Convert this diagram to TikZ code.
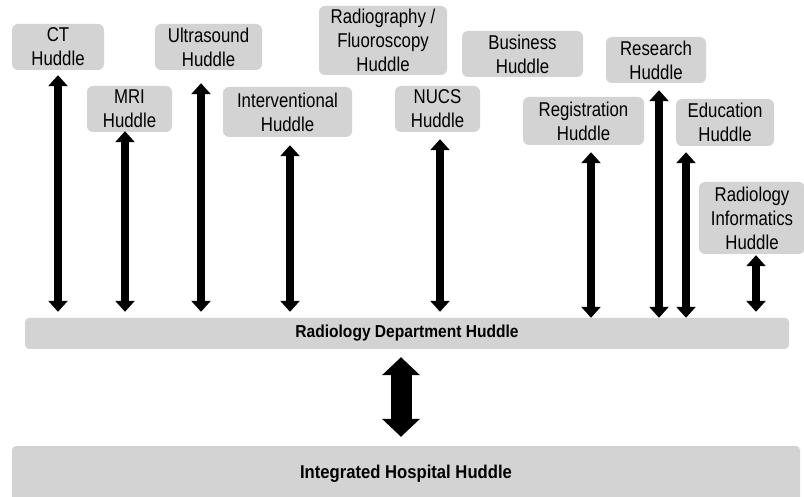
\documentclass[tikz,border=0pt]{standalone}
\usepackage{fontspec}
\setmainfont{Liberation Sans}
\newfontfamily\narrowfont[FakeStretch=0.84]{Liberation Sans}
\newfontfamily\barfont[FakeStretch=0.9]{Liberation Sans}
\usetikzlibrary{arrows.meta,calc}
\definecolor{huddlegray}{RGB}{211,211,211}

\begin{document}
\begin{tikzpicture}[x=1pt,y=-1pt,
  Huddle/.style={rectangle, rounded corners=6pt, fill=huddlegray, inner sep=0pt, align=center,
    font=\narrowfont\fontsize{20}{24}\selectfont},
  Bar/.style={rectangle, rounded corners=4pt, fill=huddlegray, inner sep=0pt,
    font=\barfont\bfseries\fontsize{17.3}{20}\selectfont},
  Link/.style={line width=8pt, {Triangle[width=19pt,length=11pt]}-{Triangle[width=19pt,length=11pt]}},
  BigLink/.style={line width=21pt, {Triangle[width=37pt,length=18pt]}-{Triangle[width=37pt,length=18pt]}}]
  \useasboundingbox (0,0) rectangle (804,497);

  % section huddles
  \node[Huddle, minimum width=92pt, minimum height=46pt] (CTHuddle) at (58,47) {CT\\Huddle};
  \node[Huddle, minimum width=85pt, minimum height=46pt] (MRIHuddle) at (129.5,109) {MRI\\Huddle};
  \node[Huddle, minimum width=107pt, minimum height=46pt] (UltrasoundHuddle) at (208.5,47) {Ultrasound\\Huddle};
  \node[Huddle, minimum width=129pt, minimum height=50pt] (InterventionalHuddle) at (287.5,112) {Interventional\\Huddle};
  \node[Huddle, minimum width=128pt, minimum height=69pt] (RadiographyHuddle) at (383,40.5) {Radiography /\\Fluoroscopy\\Huddle};
  \node[Huddle, minimum width=121pt, minimum height=46pt] (BusinessHuddle) at (522.5,54) {Business\\Huddle};
  \node[Huddle, minimum width=85pt, minimum height=46pt] (NUCSHuddle) at (437.5,109) {NUCS\\Huddle};
  \node[Huddle, minimum width=100pt, minimum height=46pt] (ResearchHuddle) at (656,60) {Research\\Huddle};
  \node[Huddle, minimum width=121pt, minimum height=48pt] (RegistrationHuddle) at (583.5,121) {Registration\\Huddle};
  \node[Huddle, minimum width=98pt, minimum height=47pt] (EducationHuddle) at (725,122.5) {Education\\Huddle};
  \node[Huddle, minimum width=106pt, minimum height=72pt] (InformaticsHuddle) at (752,218) {Radiology\\Informatics\\Huddle};

  % department and hospital
  \node[Bar, minimum width=764pt, minimum height=31pt] (DeptHuddle) at (407,333.5) {Radiology Department Huddle};
  \node[Bar, minimum width=788pt, minimum height=56pt, font=\barfont\bfseries\fontsize{18.5}{22}\selectfont]
    (HospitalHuddle) at (406,474) {Integrated Hospital Huddle};

  \path[Link]
  ($(58,0 |- CTHuddle.south)+(0,5)$) edge ($(58,0 |- DeptHuddle.north)+(0,-6)$)
  ($(125,0 |- MRIHuddle.south)+(0,-1)$) edge ($(125,0 |- DeptHuddle.north)+(0,-6)$)
  ($(201,0 |- UltrasoundHuddle.south)+(0,13)$) edge ($(201,0 |- DeptHuddle.north)+(0,-6)$)
  ($(290,0 |- InterventionalHuddle.south)+(0,8)$) edge ($(290,0 |- DeptHuddle.north)+(0,-6)$)
  ($(440,0 |- NUCSHuddle.south)+(0,7)$) edge ($(440,0 |- DeptHuddle.north)+(0,-6)$)
  ($(591,0 |- RegistrationHuddle.south)+(0,7)$) edge ($(591,0 |- DeptHuddle.north)+(0,0)$)
  ($(659,0 |- ResearchHuddle.south)+(0,7)$) edge ($(659,0 |- DeptHuddle.north)+(0,0)$)
  ($(686,0 |- EducationHuddle.south)+(0,6)$) edge ($(686,0 |- DeptHuddle.north)+(0,0)$)
  ($(756,0 |- InformaticsHuddle.south)+(0,1)$) edge ($(756,0 |- DeptHuddle.north)+(0,-6)$);

  \path[BigLink]
  ($(401,0 |- DeptHuddle.south)+(0,8)$) edge ($(401,0 |- HospitalHuddle.north)+(0,-9)$);
\end{tikzpicture}
\end{document}
